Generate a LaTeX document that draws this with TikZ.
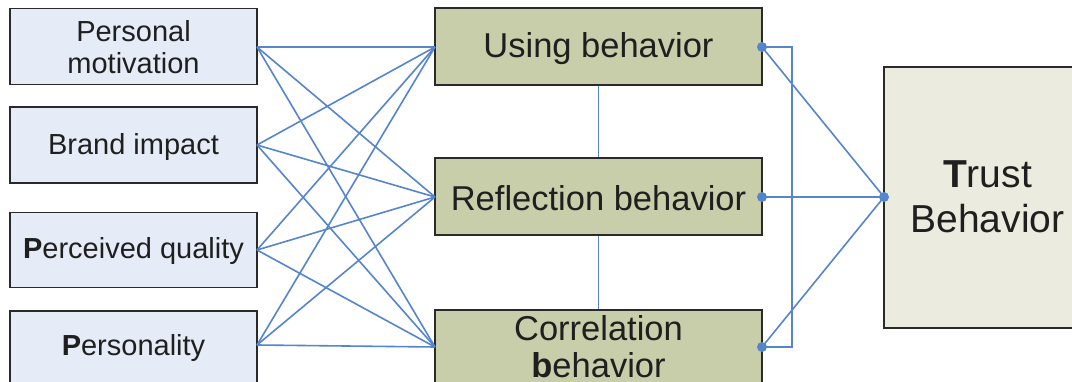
\documentclass[tikz,border=0pt]{standalone}
\usepackage{fontspec}
\setmainfont{Liberation Sans}
\definecolor{leftfill}{HTML}{E6ECF7}
\definecolor{midfill}{HTML}{C7CEA9}
\definecolor{trustfill}{HTML}{EBEBE0}
\definecolor{linkblue}{HTML}{5585CC}
\definecolor{boxedge}{HTML}{2A2A2A}
\begin{document}
\begin{tikzpicture}[x=1pt,y=-1pt,
  leftbox/.style={draw=boxedge,line width=1.6pt,fill=leftfill,minimum width=247pt,inner sep=0pt},
  midbox/.style={draw=boxedge,line width=1.6pt,fill=midfill,minimum width=327pt,inner sep=0pt},
  trustbox/.style={draw=boxedge,line width=1.6pt,fill=trustfill,minimum width=207pt,minimum height=261pt,inner sep=0pt},
  lefttext/.style={text=black!88,align=center,font=\fontsize{29}{32}\selectfont},
  midtext/.style={text=black!88,align=center,font=\fontsize{34.5}{37}\selectfont},
  trusttext/.style={text=black!88,align=center,font=\fontsize{39}{45}\selectfont},
  link/.style={draw=linkblue,line width=1.6pt},
  dot/.style={circle,fill=linkblue,inner sep=0pt,minimum size=10pt}]
\clip (0,0) rectangle (1072,382);
\fill[white] (0,0) rectangle (1072,382);
% left boxes
\node[leftbox,minimum height=76pt] (b1) at (133.5,46.5) {};
\node[lefttext] (t1) at (133.5,47) {Personal\\motivation};
\node[leftbox,minimum height=76pt] (b2) at (133.5,145) {};
\node[lefttext] (t2) at (133.5,147) {Brand impact};
\node[leftbox,minimum height=75pt] (b3) at (133.5,250) {};
\node[lefttext] (t3) at (133.5,251) {\textbf{P}erceived quality};
\node[leftbox,minimum height=90pt] (b4) at (133.5,356) {};
\node[lefttext] (t4) at (133.5,348) {\textbf{P}ersonality};
% middle boxes
\node[midbox,minimum height=77pt] (m1) at (598.5,46.5) {};
\node[midtext] (u1) at (598.5,49) {Using behavior};
\node[midbox,minimum height=77pt] (m2) at (598.5,196.5) {};
\node[midtext] (u2) at (598.5,198) {Reflection behavior};
\node[midbox,minimum height=90pt] (m3) at (598.5,355) {};
\node[midtext] (u3) at (598.5,347) {Correlation\\\textbf{b}ehavior};
% trust box
\node[trustbox] (tb) at (987.5,197.5) {};
\node[trusttext] (tt) at (987.5,197) {\textbf{T}rust\\Behavior};
% connection points
\coordinate (L1) at (257,47);
\coordinate (L2) at (257,145);
\coordinate (L3) at (257,250);
\coordinate (L4) at (257,345);
\coordinate (R1) at (435,47);
\coordinate (R2) at (435,197);
\coordinate (R3) at (435,347);
\coordinate (E1) at (762,47);
\coordinate (E2) at (762,197);
\coordinate (E3) at (762,347);
\coordinate (T) at (884,197);
\foreach \a in {L1,L2,L3,L4}
  \foreach \b in {R1,R2,R3}
    \draw[link] (\a) -- (\b);
% vertical links between middle boxes
\draw[link] (m1.south) -- (m2.north);
\draw[link] (m2.south) -- (m3.north);
% bracket on the right
\draw[link] (E1) -- ++(30,0) |- (E3);
% links to trust
\draw[link] (E1) -- (T);
\draw[link] (E2) -- (T);
\draw[link] (E3) -- (T);
\node[dot] (d1) at (E1) {};
\node[dot] (d2) at (E2) {};
\node[dot] (d3) at (E3) {};
\node[dot] (d4) at (T) {};
\end{tikzpicture}
\end{document}
